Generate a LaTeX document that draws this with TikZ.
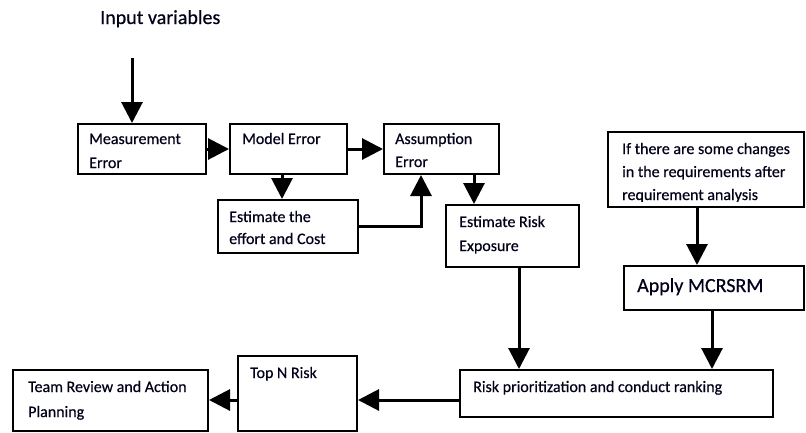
\documentclass[tikz,border=0pt]{standalone}
\usepackage{fontspec}
\setmainfont{Carlito}[FakeBold=0.5]
\usetikzlibrary{arrows.meta,calc}
\tikzset{
  box/.style={draw=black, line width=2pt, rectangle, anchor=north west, inner sep=0pt},
  txt/.style={anchor=base west, inner sep=0pt, font=\fontsize{16}{19}\selectfont, text=black!90!blue},
  bigtxt/.style={anchor=base west, inner sep=0pt, font=\fontsize{20}{24}\selectfont, text=black!90!blue},
  arr/.style={line width=3pt, -{Triangle[length=21pt,width=21pt]}},
  con/.style={line width=3pt}
}
\begin{document}
\begin{tikzpicture}[x=1pt,y=-1pt]
\useasboundingbox (0,0) rectangle (806,432);
% boxes
\node[box, minimum width=128, minimum height=50] (me) at (77,123) {};
\node[box, minimum width=117, minimum height=50] (mod) at (229,123) {};
\node[box, minimum width=115, minimum height=50] (as) at (383,123) {};
\node[box, minimum width=140, minimum height=53] (eff) at (217,199) {};
\node[box, minimum width=133, minimum height=62] (er) at (445,204) {};
\node[box, minimum width=196, minimum height=75] (if) at (607,131) {};
\node[box, minimum width=180, minimum height=44] (ap) at (623,265) {};
\node[box, minimum width=313, minimum height=47] (rp) at (459,369) {};
\node[box, minimum width=119, minimum height=75] (top) at (237,355) {};
\node[box, minimum width=195, minimum height=61] (team) at (12,369) {};
% texts
\node[bigtxt] (inv) at (100,24) {Input variables};
\node[txt] (me1) at (89,144) {Measurement};
\node[txt] (me2) at (89,168) {Error};
\node[txt] (mod1) at (242,144) {Model Error};
\node[txt] (as1) at (395,144) {Assumption};
\node[txt] (as2) at (395,167) {Error};
\node[txt] (eff1) at (229,222) {Estimate the};
\node[txt] (eff2) at (229,244) {effort and Cost};
\node[txt] (er1) at (459,227) {Estimate Risk};
\node[txt] (er2) at (459,251) {Exposure};
\begin{scope}
\clip (606,201.5) rectangle (if.north east);
\node[txt] (if1) at (622,154) {If there are some changes};
\node[txt] (if2) at (622,177) {in the requirements after};
\node[txt] (if3) at (622,200) {requirement analysis};
\end{scope}
\node[bigtxt] (ap1) at (637,292) {Apply MCRSRM};
\node[txt] (rp1) at (473,392) {Risk prioritization and conduct ranking};
\node[txt] (top1) at (250,378) {Top N Risk};
\node[txt] (team1) at (28,392) {Team Review and Action};
\node[txt] (team2) at (28,417) {Planning};
% helper coordinates
\coordinate (inS) at (132,58);
\coordinate (modX) at (282,0);
\coordinate (asUp) at (421,0);
\coordinate (asDn) at (474,0);
\coordinate (erX) at (519,0);
\coordinate (ifX) at (697,0);
\coordinate (apX) at (712,0);
\coordinate (rowY) at (0,400);
% connectors
\draw[arr] (inS) -- (inS |- me.north);
\draw[arr] (me.east) -- (mod.west);
\draw[arr] (mod.east) -- (as.west);
\draw[arr] (mod.south -| modX) -- (eff.north -| modX);
\draw[arr] (eff.east) -| (as.south -| asUp);
\draw[arr] (as.south -| asDn) -- (er.north -| asDn);
\draw[arr] (er.south -| erX) -- (rp.north -| erX);
\draw[arr] (if.south -| ifX) -- (ap.north -| ifX);
\draw[arr] (ap.south -| apX) -- (rp.north -| apX);
\draw[arr] (rp.west |- rowY) -- (top.east |- rowY);
\draw[arr] (top.west |- rowY) -- (team.east |- rowY);
\end{tikzpicture}
\end{document}
